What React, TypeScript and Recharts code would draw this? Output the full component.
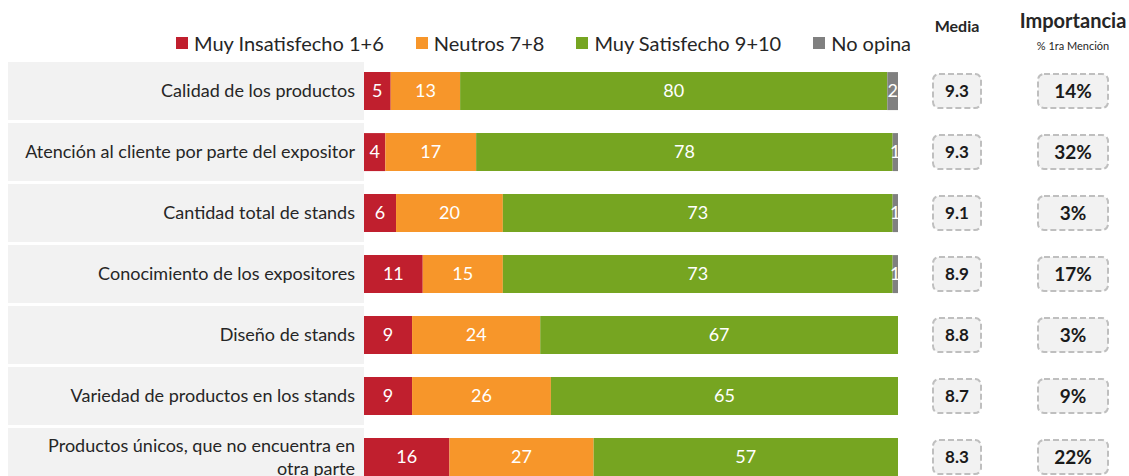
import { BarChart, Bar, XAxis, YAxis, Legend, LabelList } from "recharts";

const categories = [
  "Calidad de los productos",
  "Atención al cliente por parte del expositor",
  "Cantidad total de stands",
  "Conocimiento de los expositores",
  "Diseño de stands",
  "Variedad de productos en los stands",
  "Productos únicos, que no encuentra en otra parte",
];
const insatisfecho = [5, 4, 6, 11, 9, 9, 16];
const neutros = [13, 17, 20, 15, 24, 26, 27];
const satisfecho = [80, 78, 73, 73, 67, 65, 57];
const noOpina = [2, 1, 1, 1, 0, 0, 0];
const media = [9.3, 9.3, 9.1, 8.9, 8.8, 8.7, 8.3];
const importancia = [14, 32, 3, 17, 3, 9, 22];

const SERIES = [
  { key: "insatisfecho", name: "Muy Insatisfecho 1+6", color: "#C01F2E" },
  { key: "neutros", name: "Neutros 7+8", color: "#F7962A" },
  { key: "satisfecho", name: "Muy Satisfecho 9+10", color: "#76A521" },
  { key: "noOpina", name: "No opina", color: "#808080" },
];

const data = categories.map((name, i) => ({
  name,
  insatisfecho: insatisfecho[i],
  neutros: neutros[i],
  satisfecho: satisfecho[i],
  noOpina: noOpina[i],
}));

const FONT = "Lato, 'Open Sans', sans-serif";
const W = 1129;
const LEFT_W = 364;
const RIGHT_W = 231;
const LEGEND_H = 50;

// long labels only get wrapped when they don't fit on one line
function wrap(text: string) {
  if (text.length <= 44) return [text];
  const lines: string[] = [];
  let cur = "";
  for (const w of text.split(" ")) {
    if (cur && (cur + " " + w).length > 38) {
      lines.push(cur);
      cur = w;
    } else cur = cur ? cur + " " + w : w;
  }
  if (cur) lines.push(cur);
  return lines;
}

function LeftTick({ y, payload }: any) {
  const lines = wrap(payload.value);
  const lh = 23;
  const start = y - ((lines.length - 1) * lh) / 2;
  return (
    <g>
      <rect x={8} y={y - 29} width={LEFT_W - 8} height={58} fill="#F2F2F2" />
      {lines.map((l, i) => (
        <text
          key={i}
          x={LEFT_W - 9}
          y={start + i * lh}
          dy="0.35em"
          textAnchor="end"
          fontSize={18}
          fill="#262626"
          fontFamily={FONT}
        >
          {l}
        </text>
      ))}
    </g>
  );
}

function RightTick({ y, index }: any) {
  return (
    <g fontFamily={FONT} fontWeight="bold" fill="#1a1a1a">
      <rect x={933} y={y - 17} width={48} height={34} rx={6} fill="#F2F2F2" stroke="#BFBFBF" strokeWidth={2} strokeDasharray="6 3" />
      <text x={957} y={y} dy="0.35em" textAnchor="middle" fontSize={17}>
        {media[index].toFixed(1)}
      </text>
      <rect x={1038} y={y - 17} width={70} height={34} rx={6} fill="#F2F2F2" stroke="#BFBFBF" strokeWidth={2} strokeDasharray="6 3" />
      <text x={1073} y={y} dy="0.35em" textAnchor="middle" fontSize={19}>
        {importancia[index]}%
      </text>
    </g>
  );
}

function LegendContent() {
  return (
    <div style={{ position: "relative", width: W, height: LEGEND_H, fontFamily: FONT, color: "#262626" }}>
      <div style={{ position: "absolute", left: 176, top: 30, display: "flex", alignItems: "center", fontSize: 20, lineHeight: "26px" }}>
        {SERIES.map((s) => (
          <div key={s.key} style={{ display: "flex", alignItems: "center", marginRight: 32 }}>
            <span style={{ width: 12, height: 12, background: s.color, marginRight: 6, display: "inline-block" }} />
            {s.name}
          </div>
        ))}
      </div>
      <div style={{ position: "absolute", left: 907, width: 100, top: 16, textAlign: "center", fontSize: 16, fontWeight: "bold" }}>
        Media
      </div>
      <div style={{ position: "absolute", left: 1003, width: 140, top: 8, textAlign: "center", fontSize: 20, fontWeight: "bold" }}>
        Importancia
      </div>
      <div style={{ position: "absolute", left: 1013, width: 120, top: 39, textAlign: "center", fontSize: 11 }}>
        % 1ra Mención
      </div>
    </div>
  );
}

export default function App() {
  return (
    <div style={{ position: "fixed", left: 0, top: 0, width: W, height: 476, overflow: "hidden", background: "#fff" }}>
      <BarChart
        width={W}
        height={500}
        data={data}
        layout="vertical"
        margin={{ top: 60.5 - LEGEND_H, right: 0, bottom: 12.5, left: 0 }}
        barCategoryGap="19%"
      >
        <XAxis type="number" domain={[0, 100]} hide />
        <YAxis yAxisId="left" type="category" dataKey="name" width={LEFT_W} axisLine={false} tickLine={false} tick={<LeftTick />} interval={0} />
        <YAxis yAxisId="right" orientation="right" type="category" dataKey="name" width={RIGHT_W} axisLine={false} tickLine={false} tick={<RightTick />} interval={0} />
        <Legend verticalAlign="top" content={<LegendContent />} wrapperStyle={{ top: 0, left: 0, width: W, height: LEGEND_H }} />
        {SERIES.map((s) => (
          <Bar key={s.key} yAxisId="left" dataKey={s.key} name={s.name} stackId="a" fill={s.color} isAnimationActive={false}>
            <LabelList
              dataKey={s.key}
              position="center"
              fill="#fff"
              fontSize={18}
              fontFamily={FONT}
              formatter={(v: any) => (v ? v : "")}
            />
          </Bar>
        ))}
      </BarChart>
    </div>
  );
}
